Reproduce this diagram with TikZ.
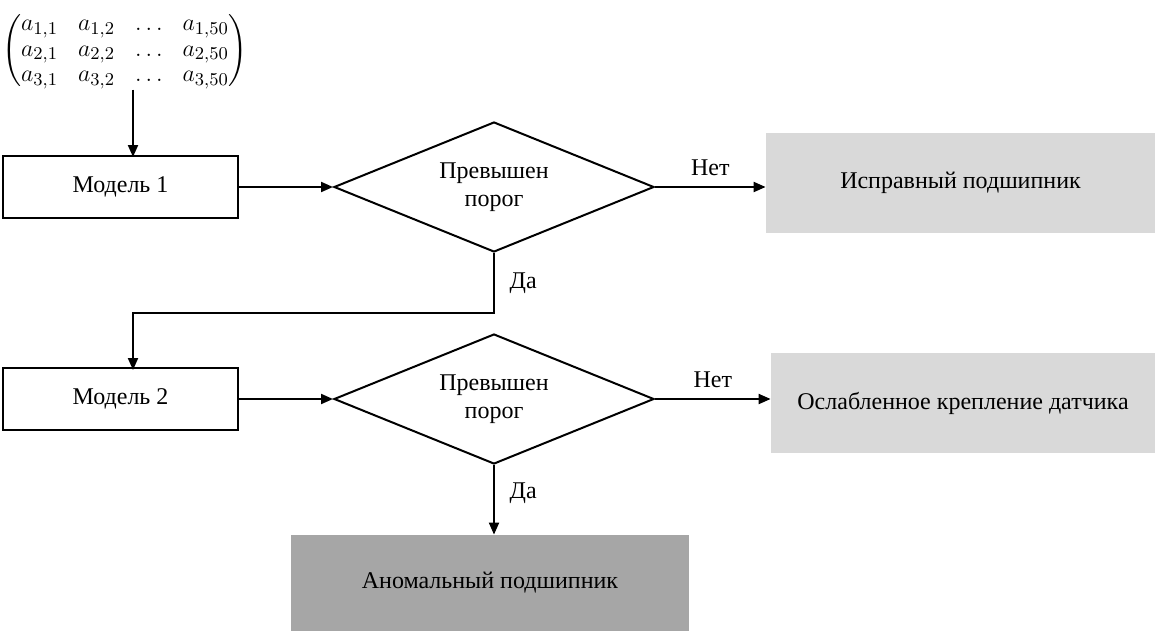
\documentclass[tikz,border=0pt]{standalone}
\usepackage{amsmath}
\usepackage{fontspec}
\setmainfont{Liberation Serif}
\usetikzlibrary{shapes.geometric,arrows.meta}

\tikzset{
  model/.style={draw,line width=1pt,minimum width=117.5pt,minimum height=31pt,inner sep=0pt},
  check/.style={draw,diamond,line width=1pt,aspect=2.4,inner sep=0pt,
    minimum width=160pt,minimum height=65pt,align=center},
  result/.style={fill=#1,minimum height=50pt,inner sep=0pt},
  arr/.style={-{Triangle[length=6pt,width=5pt]},line width=1pt}
}

\begin{document}
\begin{tikzpicture}[x=0.5pt,y=-0.5pt,font=\fontsize{12}{14}\selectfont]
  \useasboundingbox (0,0) rectangle (1155,631);
  % input matrix
  \node[inner sep=0pt,font=\fontsize{12.5}{15}\selectfont] (mat) at (125,51)
    {\renewcommand\arraystretch{0.85}$\begin{pmatrix}
      a_{1,1} & a_{1,2} & \ldots & a_{1,50}\\
      a_{2,1} & a_{2,2} & \ldots & a_{2,50}\\
      a_{3,1} & a_{3,2} & \ldots & a_{3,50}
    \end{pmatrix}$};
  % first stage
  \node[model] (m1) at (120.5,187) {Модель 1};
  \node[check] (d1) at (494,187) {Превышен\\порог};
  \node[result=black!15,minimum width=194.5pt] (ok) at (960.5,183) {Исправный подшипник};
  % second stage
  \node[model] (m2) at (120.5,399) {Модель 2};
  \node[check] (d2) at (494,399) {Превышен\\порог};
  \node[result=black!15,minimum width=192pt] (loose) at (963,403) {Ослабленное крепление датчика};
  \node[result=black!35,minimum width=199pt,minimum height=48pt] (anom) at (490,583) {Аномальный подшипник};
  \coordinate (m1top) at (133,157);
  \coordinate (turn) at (133,313);
  \coordinate (m2top) at (133,370);
  % connectors
  \draw[arr] (mat.south -| m1top) -- (m1top);
  \draw[arr] (m1.east) -- (d1.west);
  \draw[arr] (d1.east) -- (d1.east -| ok.west) node[midway,above=2pt] {Нет};
  \draw[arr] (d1.south) -- (d1.south |- turn) node[midway,right=4pt] {Да}
    -- (turn) -- (m2top);
  \draw[arr] (m2.east) -- (d2.west);
  \draw[arr] (d2.east) -- (d2.east -| loose.west) node[midway,above=2pt] {Нет};
  \draw[arr] (d2.south) -- (d2.south |- anom.north) node[pos=0.4,right=4pt] {Да};
\end{tikzpicture}
\end{document}
